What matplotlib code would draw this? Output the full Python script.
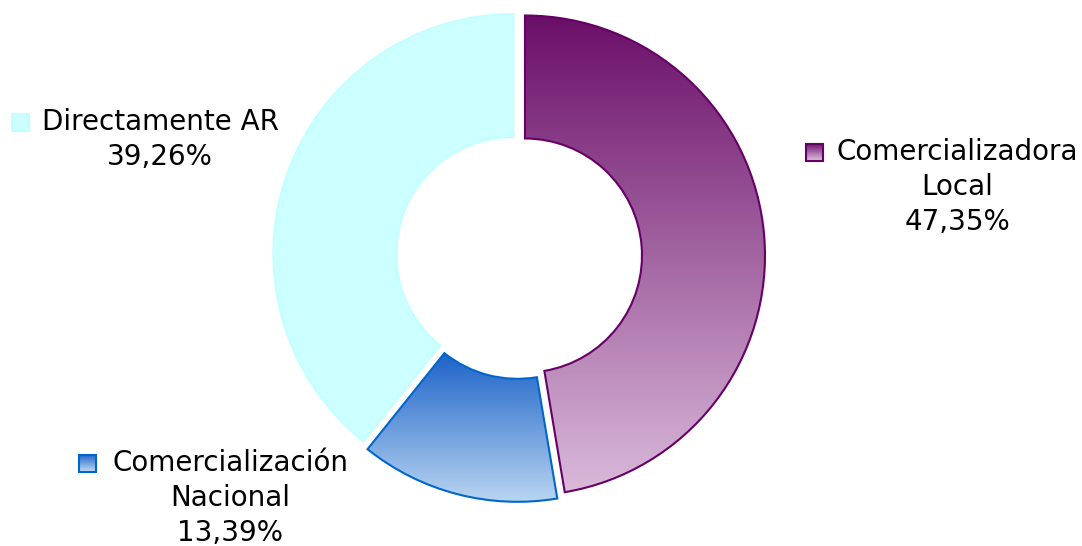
import numpy as np
import matplotlib
matplotlib.use("Agg")
import matplotlib.pyplot as plt
from matplotlib.patches import Wedge, Rectangle
from matplotlib.colors import LinearSegmentedColormap

# data
labels = ["Comercializadora\nLocal", "Comercialización\nNacional", "Directamente AR"]
values = [47.35, 13.39, 39.26]
pct_text = ["47,35%", "13,39%", "39,26%"]

top_colors = ["#6a0e68", "#1c62c8", "#ccffff"]
bottom_colors = ["#dabada", "#bad6f2", "#ccffff"]
edge_colors = ["#660066", "#0066cc", "#c4ffff"]

W, H = 1082, 546
fig = plt.figure(figsize=(W / 100, H / 100), dpi=100)
ax = fig.add_axes([0, 0, 1, 1])
ax.set_xlim(0, W)
ax.set_ylim(0, H)
ax.set_aspect("equal")
ax.axis("off")

cx, cy = 519, H - 256
R, r = 240, 117
explode = 6


def gradient_fill(patch, top, bottom, x0, x1, y0, y1):
    cmap = LinearSegmentedColormap.from_list("g", [bottom, top])
    grad = np.linspace(0, 1, 256).reshape(-1, 1)
    im = ax.imshow(grad, cmap=cmap, origin="lower", aspect="auto",
                   extent=(x0, x1, y0, y1), zorder=1)
    im.set_clip_path(patch)


total = sum(values)
start = 0.0  # clockwise from 12 o'clock
for i, v in enumerate(values):
    span = v / total * 360
    mid = start + span / 2
    dx = explode * np.sin(np.radians(mid))
    dy = explode * np.cos(np.radians(mid))
    c = (cx + dx, cy + dy)
    t1 = 90 - (start + span)
    t2 = 90 - start
    w = Wedge(c, R, t1, t2, width=R - r, facecolor="none",
              edgecolor=edge_colors[i], lw=1.5, zorder=3)
    ax.add_patch(w)
    bb = w.get_path().get_extents()
    gradient_fill(w, top_colors[i], bottom_colors[i],
                  bb.x0 - 1, bb.x1 + 1, bb.y0 - 1, bb.y1 + 1)
    start += span

# labels: (center x, first line y) in pixel coords from top
label_pos = [(957, 152), (230, 463), (160, 122)]
square_x = [806, 79, 12]
line_h = 35
fs = 20
for i in range(3):
    lx, ly = label_pos[i]
    lines = labels[i].split("\n") + [pct_text[i]]
    for k, s in enumerate(lines):
        ax.text(lx, H - (ly + k * line_h), s, ha="center", va="center",
                fontsize=fs, color="black", family="DejaVu Sans")
    sq = Rectangle((square_x[i], H - ly - 8.5), 17, 17, facecolor="none",
                   edgecolor=edge_colors[i], lw=1.5, zorder=3)
    ax.add_patch(sq)
    gradient_fill(sq, top_colors[i], bottom_colors[i],
                  square_x[i], square_x[i] + 17, H - ly - 8.5, H - ly + 8.5)

fig.savefig("out.png", dpi=100)
